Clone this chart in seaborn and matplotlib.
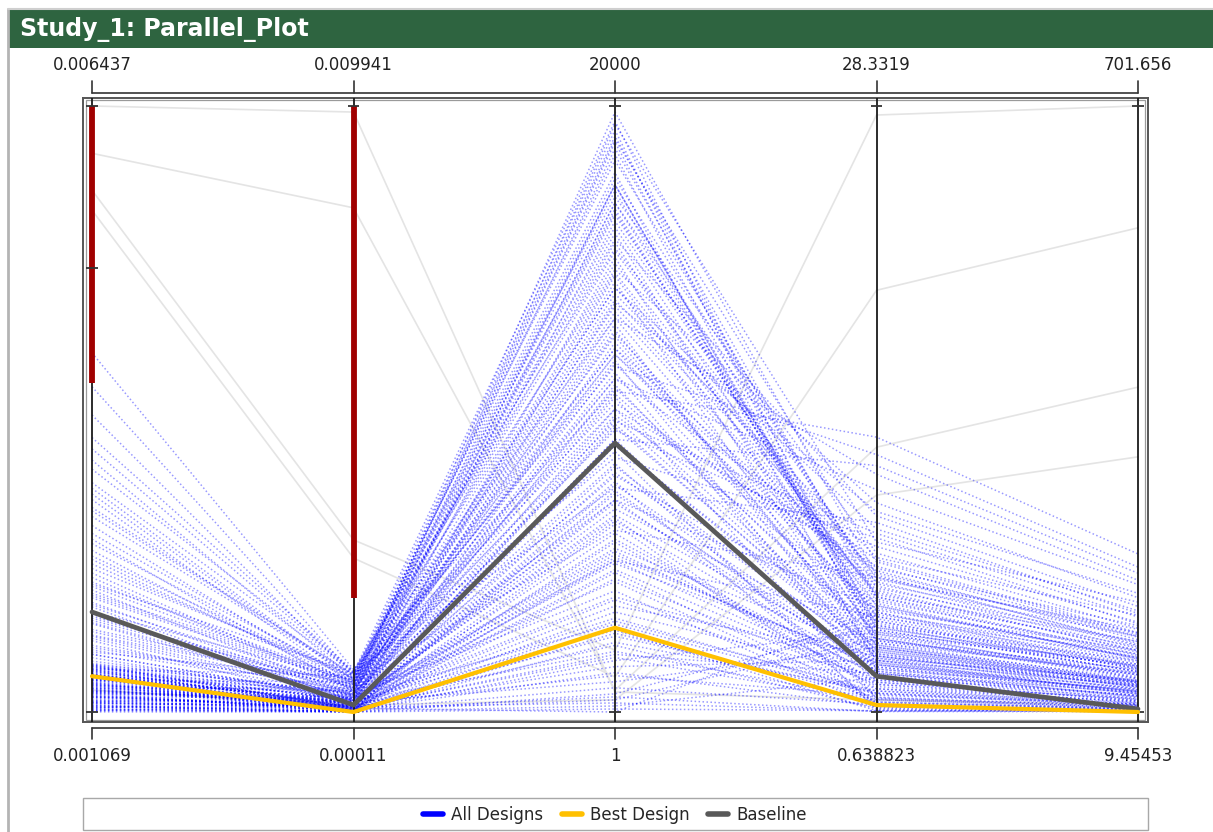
import numpy as np
import pandas as pd
import matplotlib
matplotlib.use("Agg")
import matplotlib.pyplot as plt
import seaborn as sns
from matplotlib.lines import Line2D
from matplotlib.patches import Rectangle

# ---- axis ranges (bottom / top of each parallel axis) ----
lo_labels = ["0.001069", "0.00011", "1", "0.638823", "9.45453"]
hi_labels = ["0.006437", "0.009941", "20000", "28.3319", "701.656"]
axis_lo = [0.001069, 0.00011, 1.0, 0.638823, 9.45453]
axis_hi = [0.006437, 0.009941, 20000.0, 28.3319, 701.656]

# ---- all designs (one entry per design in each parameter list) ----
p1 = np.array([
    1.10, 1.15, 1.20, 1.25, 1.30, 1.35, 1.40, 1.45, 1.12, 1.18,
    1.22, 1.28, 1.33, 1.38, 1.43, 1.48, 1.08, 1.14, 1.24, 1.32,
    1.42, 1.47, 1.09, 1.17, 1.27, 1.37, 1.46, 1.11, 1.21, 1.31,
    1.41, 1.49, 1.16, 1.26, 1.36, 1.44, 1.13, 1.23, 1.34, 1.39,
    1.55, 1.62, 1.70, 1.78, 1.85, 1.92, 2.00, 2.08, 2.15, 2.22,
    2.30, 2.38, 1.58, 1.74, 1.88, 2.04, 2.18, 2.34, 1.66, 1.96,
    2.50, 2.65, 2.80, 2.95, 3.10, 3.30, 3.50, 3.70, 3.95, 4.25,
    1.20, 1.35, 1.10, 1.45, 1.28, 1.60, 1.90, 2.20, 2.60, 3.00,
    1.15, 1.25, 1.40, 1.30, 1.50, 1.75, 2.10, 2.45, 2.85, 3.40,
    1.07, 1.09, 1.11, 1.13, 1.15, 1.17, 1.19, 1.21, 1.23, 1.25,
    1.27, 1.29, 1.31, 1.33, 1.35, 1.37, 1.39, 1.41, 1.43, 1.45,
    1.47, 1.49, 1.08, 1.12, 1.16, 1.20, 1.24, 1.28, 1.32, 1.36,
    1.52, 1.58, 1.64, 1.72, 1.80, 1.86, 1.94, 2.02, 2.12, 2.26,
    2.42, 2.56, 2.72, 2.88, 3.05, 3.22, 1.40, 1.44, 1.48, 1.26,
]) * 1e-3
p2 = np.array([
    0.12, 0.15, 0.18, 0.21, 0.13, 0.25, 0.16, 0.30, 0.11, 0.20,
    0.14, 0.24, 0.17, 0.28, 0.19, 0.35, 0.12, 0.22, 0.26, 0.15,
    0.33, 0.18, 0.11, 0.27, 0.21, 0.14, 0.38, 0.23, 0.16, 0.29,
    0.13, 0.42, 0.19, 0.25, 0.31, 0.17, 0.12, 0.36, 0.22, 0.45,
    0.30, 0.40, 0.25, 0.50, 0.35, 0.45, 0.28, 0.55, 0.38, 0.60,
    0.48, 0.65, 0.32, 0.42, 0.52, 0.36, 0.58, 0.70, 0.44, 0.62,
    0.50, 0.60, 0.70, 0.55, 0.75, 0.65, 0.78, 0.68, 0.72, 0.80,
    0.35, 0.60, 0.40, 0.70, 0.50, 0.65, 0.55, 0.75, 0.45, 0.62,
    0.20, 0.30, 0.25, 0.45, 0.40, 0.52, 0.58, 0.66, 0.72, 0.76,
    0.11, 0.13, 0.16, 0.12, 0.19, 0.14, 0.22, 0.17, 0.11, 0.24,
    0.15, 0.27, 0.12, 0.20, 0.32, 0.18, 0.13, 0.26, 0.21, 0.14,
    0.29, 0.16, 0.23, 0.11, 0.34, 0.19, 0.12, 0.28, 0.15, 0.37,
    0.40, 0.33, 0.47, 0.38, 0.56, 0.43, 0.30, 0.50, 0.62, 0.46,
    0.58, 0.66, 0.52, 0.71, 0.63, 0.77, 0.24, 0.31, 0.18, 0.27,
]) * 1e-3
p3 = np.array([
    200, 800, 1500, 2200, 3000, 3800, 4600, 5400, 6200, 7000,
    400, 1200, 1900, 2700, 3500, 4300, 5100, 5900, 6700, 7600,
    8200, 9000, 600, 1000, 2500, 3300, 4000, 4900, 5600, 6400,
    7300, 8600, 9500, 10400, 11200, 1, 1700, 2900, 5200, 12000,
    7800, 9800, 10800, 11800, 12800, 13600, 14400, 15200, 8800, 6000,
    11000, 16000, 5000, 9300, 12400, 13200, 14000, 16600, 7000, 10000,
    9600, 12000, 14600, 16400, 13000, 17000, 15600, 11400, 18200, 10600,
    17400, 17400, 18600, 19200, 19800, 17800, 18900, 19500, 16800, 15800,
    15000, 16200, 14200, 13400, 17400, 12600, 11600, 10200, 8400, 7400,
    100, 2600, 5000, 7500, 10000, 1300, 3700, 6300, 8800, 11500,
    500, 3100, 5700, 8100, 10700, 1800, 4400, 6900, 9400, 12200,
    2000, 4700, 7200, 9700, 13000, 300, 2300, 5300, 7900, 14500,
    10500, 12500, 14800, 16800, 18800, 13800, 11800, 15500, 17600, 19400,
    16500, 18400, 14000, 17200, 19000, 15300, 13500, 11000, 9000, 6500,
], dtype=float)
p4 = np.array([
    2.2, 1.0, 3.0, 0.8, 1.6, 2.6, 1.2, 3.4, 0.9, 1.9,
    4.0, 1.4, 2.4, 0.7, 3.2, 1.1, 2.8, 1.7, 3.8, 0.95,
    1.3, 2.0, 4.6, 3.6, 1.5, 2.3, 0.85, 2.9, 1.8, 1.05,
    2.5, 0.75, 3.3, 1.25, 2.1, 5.2, 4.3, 1.45, 2.7, 3.9,
    4.8, 5.6, 3.1, 6.4, 2.4, 7.0, 4.1, 5.9, 3.5, 6.8,
    7.6, 4.5, 5.0, 8.2, 3.7, 6.1, 9.0, 4.9, 5.4, 7.3,
    8.8, 6.6, 10.2, 5.7, 11.5, 7.9, 9.6, 12.4, 6.3, 13.2,
    4.5, 4.4, 5.8, 3.6, 6.9, 2.8, 7.5, 4.0, 5.2, 3.2,
    3.0, 5.5, 2.6, 6.2, 4.7, 3.4, 2.2, 7.1, 8.6, 9.3,
    0.7, 1.3, 2.1, 2.9, 3.7, 0.9, 1.7, 2.5, 3.3, 4.2,
    0.66, 1.5, 2.3, 3.1, 4.0, 1.1, 1.9, 2.7, 3.5, 4.4,
    1.2, 2.0, 2.8, 3.6, 4.8, 0.68, 1.6, 2.4, 3.2, 5.5,
    4.3, 5.1, 6.0, 6.7, 4.6, 7.7, 5.3, 3.9, 6.5, 8.4,
    5.0, 3.8, 7.2, 4.2, 5.9, 6.8, 9.8, 10.8, 11.9, 3.0,
])
p5 = np.array([
    15, 12, 30, 10, 20, 35, 14, 40, 11, 25,
    50, 18, 28, 10.5, 38, 13, 33, 22, 45, 12.5,
    16, 24, 55, 42, 19, 27, 11.5, 36, 21, 13.5,
    31, 10.2, 44, 17, 26, 60, 48, 18.5, 34, 52,
    58, 70, 46, 82, 32, 95, 54, 75, 43, 88,
    100, 62, 66, 112, 47, 80, 125, 64, 72, 96,
    118, 85, 140, 78, 160, 105, 130, 175, 90, 190,
    60, 56, 74, 44, 86, 37, 98, 52, 68, 41,
    39, 71, 33, 79, 59, 43, 29, 92, 110, 122,
    10, 14, 22, 32, 44, 12, 18, 27, 38, 52,
    9.8, 16, 24, 35, 48, 13, 20, 30, 41, 56,
    15, 23, 33, 45, 62, 11, 17, 28, 39, 70,
    64, 76, 90, 104, 68, 120, 80, 58, 96, 135,
    72, 54, 108, 62, 84, 100, 145, 155, 168, 40,
])

# ---- designs outside the active filter (drawn faint grey) ----
g1 = [6.018e-3, 5.691e-3, 5.514e-3, 6.437e-3, 1.262e-3]
g2 = [8.289e-3, 2.902e-3, 2.607e-3, 9.843e-3, 0.224e-3]
g3 = [721, 2041, 1161, 661, 401]
g4 = [12.74, 27.92, 19.91, 1.19, 10.55]
g5 = [380.5, 701.656, 562.5, 17.5, 300.9]

# ---- reference designs ----
best_design = [1.386e-3, 0.11e-3, 2781, 0.957, 9.45453]
baseline = [1.955e-3, 0.223e-3, 8880, 2.273, 12.9]

# ---- filter ranges on the first two axes ----
filter_p1 = [0.003985, 0.006437]
filter_p2 = [0.00196, 0.009941]
p1_mark = 0.005

lo = np.array(axis_lo)
hi = np.array(axis_hi)


def norm(vals):
    return (np.asarray(vals, dtype=float) - lo) / (hi - lo)


def long_form(table):
    rows = []
    for d, row in enumerate(table):
        for i, v in enumerate(norm(row)):
            rows.append((d, i, v))
    return pd.DataFrame(rows, columns=["design", "axis", "pos"])


all_df = long_form(np.column_stack([p1, p2, p3, p4, p5]))
grey_df = long_form(np.column_stack([g1, g2, g3, g4, g5]))
best_df = long_form([best_design])
base_df = long_form([baseline])

sns.set_style("white")
plt.rcParams["font.family"] = ["DejaVu Sans"]

W, H = 1213, 832
fig = plt.figure(figsize=(W / 100, H / 100), dpi=100)

# plot box in pixels
bx0, bx1, by0, by1 = 83, 1148, 98, 722
ax = fig.add_axes([bx0 / W, 1 - by1 / H, (bx1 - bx0) / W, (by1 - by0) / H])
step = 261.5
ax.set_xlim((bx0 - 92) / step, (bx1 - 92) / step)
ax.set_ylim((712 - by1) / 606, (712 - by0) / 606)
ax.set_xticks([])
ax.set_yticks([])
for s in ax.spines.values():
    s.set_color("#555555")
    s.set_linewidth(1.4)
ax.add_patch(Rectangle((0.003, 0.004), 0.994, 0.992, transform=ax.transAxes,
                       fill=False, edgecolor="#9a9a9a", lw=0.9, zorder=1))

y0, y1 = ax.get_ylim()

sns.lineplot(data=grey_df, x="axis", y="pos", units="design", estimator=None,
             sort=False, color="#e4e4e4", lw=1.2, legend=False, ax=ax, zorder=2)
sns.lineplot(data=all_df, x="axis", y="pos", units="design", estimator=None,
             sort=False, color="#0000ff", lw=1.1, alpha=0.4,
             linestyle=(0, (1, 1.6)), legend=False, ax=ax, zorder=3)

# parallel axes
ax.vlines(range(5), y0, y1, color="#1a1a1a", lw=1.3, zorder=4)
for i in range(5):
    ax.hlines([0, 1], i - 0.022, i + 0.022, color="#333333", lw=1.3, zorder=6)
ax.hlines([norm([p1_mark, 1, 1, 1, 1])[0]], -0.022, 0.022, color="#333333", lw=1.3, zorder=6)

# filter bars
f1 = (np.array(filter_p1) - lo[0]) / (hi[0] - lo[0])
f2 = (np.array(filter_p2) - lo[1]) / (hi[1] - lo[1])
ax.plot([0, 0], f1, color="#a00000", lw=4.2, solid_capstyle="butt", zorder=5)
ax.plot([1, 1], f2, color="#a00000", lw=4.2, solid_capstyle="butt", zorder=5)

sns.lineplot(data=base_df, x="axis", y="pos", units="design", estimator=None,
             sort=False, color="#595959", lw=3.4, legend=False, ax=ax, zorder=7)
sns.lineplot(data=best_df, x="axis", y="pos", units="design", estimator=None,
             sort=False, color="#ffc000", lw=3.0, legend=False, ax=ax, zorder=8)
ax.set_xlabel("")
ax.set_ylabel("")


def py(pix):
    return (712 - pix) / 606


# top and bottom brackets with range labels
ax.plot([0, 4], [py(93)] * 2, color="#333333", lw=1.2, clip_on=False)
ax.plot([0, 4], [py(728)] * 2, color="#333333", lw=1.2, clip_on=False)
for i in range(5):
    ax.plot([i, i], [py(93), py(81)], color="#333333", lw=1.2, clip_on=False)
    ax.plot([i, i], [py(728), py(739)], color="#333333", lw=1.2, clip_on=False)
    ax.text(i, py(65), hi_labels[i], ha="center", va="center",
            fontsize=12, color="#222222", clip_on=False)
    ax.text(i, py(756), lo_labels[i], ha="center", va="center",
            fontsize=12, color="#222222", clip_on=False)

# title bar and outer frame
fig.patches.append(Rectangle((9 / W, 1 - 48 / H), (W - 9) / W, 38 / H,
                             transform=fig.transFigure, facecolor="#2e6440",
                             edgecolor="none", zorder=0))
fig.lines.append(Line2D([8 / W, 8 / W], [0, 1 - 9 / H], transform=fig.transFigure,
                        color="#b4b4b4", lw=2))
fig.lines.append(Line2D([8 / W, 1], [1 - 9 / H, 1 - 9 / H], transform=fig.transFigure,
                        color="#cfcfcf", lw=1.5))
fig.text(20 / W, 1 - 30 / H, "Study_1: Parallel_Plot", color="white",
         fontsize=17, fontweight="bold", va="center", ha="left")

# legend
fig.patches.append(Rectangle((bx0 / W, 1 - 830 / H), (bx1 - bx0) / W, 32 / H,
                             transform=fig.transFigure, fill=False,
                             edgecolor="#a8a8a8", lw=1.0))
handles = [Line2D([], [], color="#0000ff", lw=4),
           Line2D([], [], color="#ffc000", lw=4),
           Line2D([], [], color="#595959", lw=4)]
fig.legend(handles, ["All Designs", "Best Design", "Baseline"], loc="center",
           bbox_to_anchor=(615 / W, 1 - 815 / H), ncol=3, frameon=False,
           fontsize=12, handlelength=1.2, handletextpad=0.5, columnspacing=1.1)

fig.savefig("out.png", dpi=100)
